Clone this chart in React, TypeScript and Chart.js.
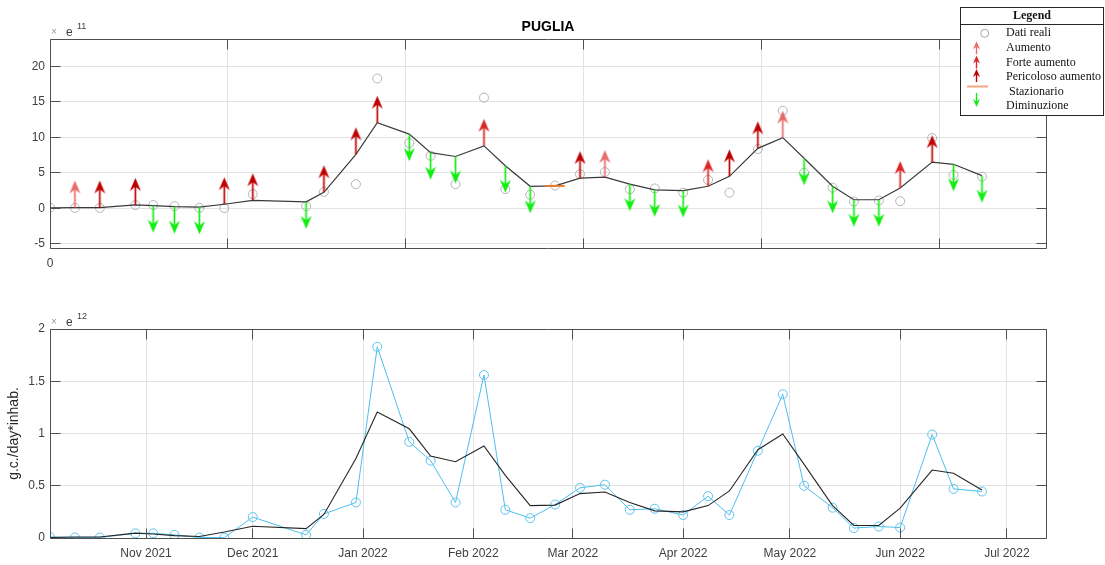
import React, { useEffect, useRef } from 'react';
import { Chart, registerables } from 'chart.js';

Chart.register(...registerables);

// ---------------- data ----------------
const START_DATE = '2021-10-05';

const sampleDates = [
  '2021-10-05', '2021-10-12', '2021-10-19', '2021-10-29', '2021-11-03', '2021-11-09',
  '2021-11-16', '2021-11-23', '2021-12-01', '2021-12-16', '2021-12-21', '2021-12-30',
  '2022-01-05', '2022-01-14', '2022-01-20', '2022-01-27', '2022-02-04', '2022-02-10',
  '2022-02-17', '2022-02-24', '2022-03-03', '2022-03-10', '2022-03-17', '2022-03-24',
  '2022-04-01', '2022-04-08', '2022-04-14', '2022-04-22', '2022-04-29', '2022-05-05',
  '2022-05-13', '2022-05-19', '2022-05-26', '2022-06-01', '2022-06-10', '2022-06-16',
  '2022-06-24',
];

// real data, g.c./day*inhab. in units of 1e12
const realValuesE12 = [
  0.01, 0.005, 0.005, 0.045, 0.045, 0.03, 0.005, 0.003, 0.2, 0.03, 0.23, 0.34,
  1.83, 0.92, 0.74, 0.34, 1.56, 0.27, 0.19, 0.32, 0.48, 0.51, 0.27, 0.28,
  0.22, 0.4, 0.22, 0.835, 1.375, 0.5, 0.29, 0.095, 0.11, 0.1, 0.99, 0.47,
  0.445,
];

// smoothed trend in units of 1e11
const trendValuesE11 = [
  0.05, 0.1, 0.1, 0.47, 0.38, 0.23, 0.15, 0.57, 1.12, 0.9, 2.25, 7.6,
  12.05, 10.45, 7.85, 7.3, 8.8, 6.0, 3.1, 3.15, 4.25, 4.4, 3.4, 2.6,
  2.5, 3.1, 4.5, 8.45, 9.95, 7.05, 3.1, 1.2, 1.2, 2.85, 6.5, 6.2,
  4.6,
];

// '' none, A Aumento, F Forte aumento, P Pericoloso aumento, S Stazionario, D Diminuzione
const trendClasses = [
  '', 'A', 'P', 'P', 'D', 'D', 'D', 'P', 'P', 'D', 'P', 'P',
  'P', 'D', 'D', 'D', 'F', 'D', 'D', 'S', 'P', 'A', 'D', 'D',
  'D', 'F', 'P', 'P', 'A', 'D', 'D', 'D', 'D', 'F', 'P', 'D',
  'D',
];

const monthTickDates = [
  '2021-11-01', '2021-12-01', '2022-01-01', '2022-02-01', '2022-03-01',
  '2022-04-01', '2022-05-01', '2022-06-01', '2022-07-01',
];
const monthTickLabels = [
  'Nov 2021', 'Dec 2021', 'Jan 2022', 'Feb 2022', 'Mar 2022',
  'Apr 2022', 'May 2022', 'Jun 2022', 'Jul 2022',
];

const topXTicks = [0, 50, 100, 150, 200, 250];
const topXTickLabels = ['0', '', '', '', '', ''];
const topYTicks = [-5, 0, 5, 10, 15, 20];
const bottomYTicks = [0, 0.5, 1, 1.5, 2];
const bottomYTickLabels = ['0', '0.5', '1', '1.5', '2'];

const chartTitle = 'PUGLIA';
const yAxisTitle = 'g.c./day*inhab.';
const legendTitle = 'Legend';
const legendLabels = ['Dati reali', 'Aumento', 'Forte aumento', 'Pericoloso aumento', ' Stazionario', 'Diminuzione'];

// ---------------- styles ----------------
const SANS = '"Liberation Sans", Arial, Helvetica, sans-serif';
const SERIF = '"Liberation Serif", "Times New Roman", serif';
const FRAME = '#505050';
const GRID = '#e2e2e2';
const TICK_TEXT = '#404040';
const COLORS: Record<string, string> = {
  A: '#E86A6A',
  F: '#DC2626',
  P: '#C00000',
  D: '#12EE12',
  S: '#F07A2A',
};

const dayOf = (iso: string) => (Date.parse(iso) - Date.parse(START_DATE)) / 86400000;

function makeArrow(color: string, up: boolean, len = 27, headLen = 13, headW = 11, shaftW = 1.7) {
  const w = 15;
  const h = 2 * len + 4;
  const c = document.createElement('canvas');
  c.width = w;
  c.height = h;
  const ctx = c.getContext('2d')!;
  const cx = w / 2;
  const cy = h / 2;
  const s = up ? -1 : 1;
  const tipY = cy + s * len;
  ctx.strokeStyle = color;
  ctx.fillStyle = color;
  ctx.lineWidth = shaftW;
  ctx.beginPath();
  ctx.moveTo(cx, cy);
  ctx.lineTo(cx, tipY - s * headLen * 0.6);
  ctx.stroke();
  ctx.beginPath();
  ctx.moveTo(cx, tipY);
  ctx.lineTo(cx - headW / 2, tipY - s * headLen);
  ctx.lineTo(cx, tipY - s * headLen * 0.68);
  ctx.lineTo(cx + headW / 2, tipY - s * headLen);
  ctx.closePath();
  ctx.fill();
  return c;
}

function smallArrow(ctx: CanvasRenderingContext2D, x: number, yBase: number, yTip: number, color: string) {
  const s = yTip < yBase ? 1 : -1;
  ctx.save();
  ctx.strokeStyle = color;
  ctx.fillStyle = color;
  ctx.lineWidth = 1.4;
  ctx.beginPath();
  ctx.moveTo(x, yBase);
  ctx.lineTo(x, yTip + s * 4);
  ctx.stroke();
  ctx.beginPath();
  ctx.moveTo(x, yTip);
  ctx.lineTo(x - 3.5, yTip + s * 8);
  ctx.lineTo(x, yTip + s * 5.5);
  ctx.lineTo(x + 3.5, yTip + s * 8);
  ctx.closePath();
  ctx.fill();
  ctx.restore();
}

const al = (v: number) => Math.round(v - 0.5) + 0.5;

const frameTicksPlugin = {
  id: 'frameTicks',
  afterDatasetsDraw(chart: any) {
    const { ctx, chartArea: a, scales } = chart;
    ctx.save();
    ctx.strokeStyle = FRAME;
    ctx.lineWidth = 1;
    const L = al(a.left), R = al(a.right), T = al(a.top), B = al(a.bottom);
    ctx.beginPath();
    ctx.rect(L, T, R - L, B - T);
    ctx.stroke();
    const tl = 10;
    ctx.beginPath();
    scales.x.ticks.forEach((t: any) => {
      const px = al(scales.x.getPixelForValue(t.value));
      ctx.moveTo(px, B);
      ctx.lineTo(px, B - tl);
      ctx.moveTo(px, T);
      ctx.lineTo(px, T + tl);
    });
    scales.y.ticks.forEach((t: any) => {
      const py = al(scales.y.getPixelForValue(t.value));
      ctx.moveTo(L, py);
      ctx.lineTo(L + tl, py);
      ctx.moveTo(R, py);
      ctx.lineTo(R - tl, py);
    });
    ctx.stroke();
    // exponent label
    const ey = a.top - 6.5;
    ctx.textAlign = 'left';
    ctx.textBaseline = 'middle';
    ctx.fillStyle = '#9a9a9a';
    ctx.font = `10px ${SANS}`;
    ctx.fillText('×', a.left + 1, ey);
    ctx.fillStyle = TICK_TEXT;
    ctx.font = `12px ${SANS}`;
    ctx.fillText('e', a.left + 16, ey);
    ctx.font = `9px ${SANS}`;
    ctx.fillText(chart.options.plugins.frameTicks.exponent, a.left + 27, ey - 6);
    ctx.restore();
  },
};

const topDecorPlugin = {
  id: 'topDecor',
  afterDraw(chart: any) {
    const { ctx, chartArea: a } = chart;
    ctx.save();
    // title
    ctx.fillStyle = '#000';
    ctx.font = `bold 14px ${SANS}`;
    ctx.textAlign = 'center';
    ctx.textBaseline = 'middle';
    ctx.fillText(chartTitle, (a.left + a.right) / 2, 27);

    // legend box
    const LX = 960.5, LY = 7.5, LW = 143, LH = 108;
    ctx.fillStyle = '#fff';
    ctx.fillRect(LX, LY, LW, LH);
    ctx.strokeStyle = '#262626';
    ctx.lineWidth = 1;
    ctx.strokeRect(LX, LY, LW, LH);
    ctx.beginPath();
    ctx.moveTo(LX, 24.5);
    ctx.lineTo(LX + LW, 24.5);
    ctx.stroke();
    ctx.fillStyle = '#111';
    ctx.font = `bold 12px ${SERIF}`;
    ctx.fillText(legendTitle, LX + LW / 2, 16);

    const rows = [33.3, 47.7, 62.5, 77, 91.5, 106.3];
    ctx.font = `12px ${SERIF}`;
    ctx.textAlign = 'left';
    legendLabels.forEach((lab, i) => {
      ctx.fillStyle = '#111';
      ctx.fillText(lab, 1006, rows[i]);
    });
    // symbols
    ctx.strokeStyle = '#a8a8a8';
    ctx.lineWidth = 1;
    ctx.beginPath();
    ctx.arc(984.7, rows[0], 4, 0, Math.PI * 2);
    ctx.stroke();
    smallArrow(ctx, 976.5, rows[1] + 6.5, rows[1] - 6.5, COLORS.A);
    smallArrow(ctx, 976.5, rows[2] + 6, rows[2] - 7, COLORS.F);
    smallArrow(ctx, 976.5, rows[3] + 5, rows[3] - 8, COLORS.P);
    ctx.strokeStyle = '#F4A582';
    ctx.lineWidth = 2;
    ctx.beginPath();
    ctx.moveTo(967, 86.5);
    ctx.lineTo(988, 86.5);
    ctx.stroke();
    smallArrow(ctx, 976.5, 93, 107, COLORS.D);
    ctx.restore();
  },
};

export default function App() {
  const topRef = useRef<HTMLCanvasElement>(null);
  const botRef = useRef<HTMLCanvasElement>(null);

  useEffect(() => {
    Chart.defaults.font.family = SANS;
    Chart.defaults.font.size = 12;
    Chart.defaults.color = TICK_TEXT;

    const days = sampleDates.map(dayOf);
    const realTop = days.map((d, i) => ({ x: d, y: realValuesE12[i] * 10 }));
    const trendTop = days.map((d, i) => ({ x: d, y: trendValuesE11[i] }));
    const realBot = days.map((d, i) => ({ x: d, y: realValuesE12[i] }));
    const trendBot = days.map((d, i) => ({ x: d, y: trendValuesE11[i] / 10 }));
    const byClass = (k: string) => trendTop.filter((_, i) => trendClasses[i] === k);

    const arrowImgs: Record<string, HTMLCanvasElement> = {
      A: makeArrow(COLORS.A, true),
      F: makeArrow(COLORS.F, true),
      P: makeArrow(COLORS.P, true),
      D: makeArrow(COLORS.D, false),
    };

    const arrowDs = (k: string, label: string) => ({
      label,
      data: byClass(k),
      showLine: false,
      pointStyle: arrowImgs[k],
      pointRadius: 5,
      pointHoverRadius: 5,
      clip: false,
      order: 1,
    });

    const commonX = (extra: any) => ({
      type: 'linear',
      min: 0,
      max: 280,
      grid: { color: GRID, drawTicks: false, lineWidth: 1 },
      border: { display: false },
      ticks: { padding: 8, maxRotation: 0, autoSkip: false, color: TICK_TEXT, font: { size: 12 } },
      ...extra,
    });

    const top = new Chart(topRef.current!, {
      type: 'scatter',
      data: {
        datasets: [
          {
            label: 'Dati reali',
            data: realTop,
            showLine: false,
            pointStyle: 'circle',
            pointRadius: 4.5,
            pointBorderColor: '#b4b4b4',
            pointBackgroundColor: 'rgba(0,0,0,0)',
            pointBorderWidth: 1,
            order: 5,
          },
          {
            label: 'Trend',
            data: trendTop,
            showLine: true,
            borderColor: '#3a3a3a',
            borderWidth: 1.2,
            pointRadius: 0,
            order: 4,
          },
          arrowDs('A', 'Aumento'),
          arrowDs('F', 'Forte aumento'),
          arrowDs('P', 'Pericoloso aumento'),
          arrowDs('D', 'Diminuzione'),
          {
            label: 'Stazionario',
            data: byClass('S'),
            showLine: false,
            pointStyle: 'line',
            pointRadius: 9.5,
            pointBorderColor: COLORS.S,
            pointBorderWidth: 2,
            order: 0,
          },
        ],
      } as any,
      options: {
        responsive: false,
        maintainAspectRatio: false,
        animation: false,
        events: [],
        layout: { padding: { top: 39, right: 59, left: 0, bottom: 0 } },
        plugins: {
          legend: { display: false },
          tooltip: { enabled: false },
          frameTicks: { exponent: '11' },
        } as any,
        scales: {
          x: commonX({
            afterBuildTicks: (s: any) => { s.ticks = topXTicks.map((v) => ({ value: v })); },
            afterFit: (s: any) => { s.height = 32; },
            ticks: {
              padding: 8, maxRotation: 0, autoSkip: false, color: TICK_TEXT, font: { size: 12 },
              callback: (_v: any, i: number) => topXTickLabels[i],
            },
          }),
          y: {
            type: 'linear',
            min: -5.6,
            max: 23.86,
            grid: { color: GRID, drawTicks: false },
            border: { display: false },
            afterBuildTicks: (s: any) => { s.ticks = topYTicks.map((v) => ({ value: v })); },
            afterFit: (s: any) => { s.width = 50; },
            ticks: {
              padding: 5, color: TICK_TEXT, font: { size: 12 },
              callback: (_v: any, i: number) => String(topYTicks[i]),
            },
          },
        } as any,
      },
      plugins: [frameTicksPlugin, topDecorPlugin],
    });

    const bot = new Chart(botRef.current!, {
      type: 'scatter',
      data: {
        datasets: [
          {
            label: 'Dati reali',
            data: realBot,
            showLine: true,
            borderColor: '#4DBEEE',
            borderWidth: 1,
            pointStyle: 'circle',
            pointRadius: 4.5,
            pointBorderColor: '#5cc4f0',
            pointBackgroundColor: 'rgba(0,0,0,0)',
            pointBorderWidth: 1,
            order: 2,
          },
          {
            label: 'Trend',
            data: trendBot,
            showLine: true,
            borderColor: '#262626',
            borderWidth: 1.1,
            pointRadius: 0,
            order: 1,
          },
        ],
      } as any,
      options: {
        responsive: false,
        maintainAspectRatio: false,
        animation: false,
        events: [],
        layout: { padding: { top: 49, right: 59, left: 0, bottom: 0 } },
        plugins: {
          legend: { display: false },
          tooltip: { enabled: false },
          frameTicks: { exponent: '12' },
        } as any,
        scales: {
          x: commonX({
            afterBuildTicks: (s: any) => { s.ticks = monthTickDates.map((d) => ({ value: dayOf(d) })); },
            afterFit: (s: any) => { s.height = 27; },
            ticks: {
              padding: 8, maxRotation: 0, autoSkip: false, color: TICK_TEXT, font: { size: 12 },
              callback: (_v: any, i: number) => monthTickLabels[i],
            },
          }),
          y: {
            type: 'linear',
            min: 0,
            max: 2,
            grid: { color: GRID, drawTicks: false },
            border: { display: false },
            afterBuildTicks: (s: any) => { s.ticks = bottomYTicks.map((v) => ({ value: v })); },
            afterFit: (s: any) => { s.width = 50; },
            title: {
              display: true,
              text: yAxisTitle,
              color: '#262626',
              font: { size: 14 },
              padding: { top: 6, bottom: 0 },
            },
            ticks: {
              padding: 5, color: TICK_TEXT, font: { size: 12 },
              callback: (_v: any, i: number) => bottomYTickLabels[i],
            },
          },
        } as any,
      },
      plugins: [frameTicksPlugin],
    });

    return () => {
      top.destroy();
      bot.destroy();
    };
  }, []);

  return (
    <div style={{ position: 'absolute', left: 0, top: 0, width: 1105, height: 565, background: '#fff' }}>
      <canvas ref={topRef} width={1105} height={280} style={{ position: 'absolute', left: 0, top: 0 }} />
      <canvas ref={botRef} width={1105} height={285} style={{ position: 'absolute', left: 0, top: 280 }} />
    </div>
  );
}
